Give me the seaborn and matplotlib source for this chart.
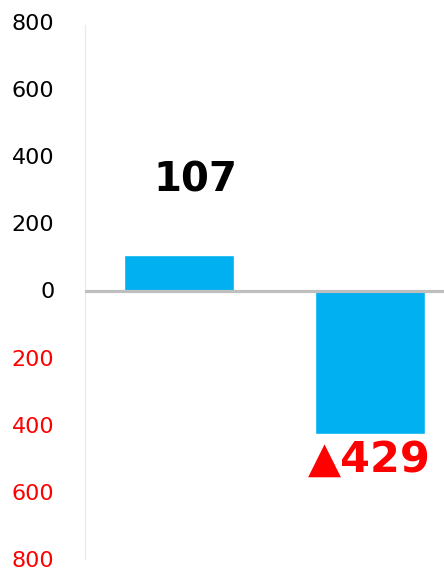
import matplotlib
matplotlib.use("Agg")
import matplotlib.pyplot as plt
import seaborn as sns
import pandas as pd

# data
categories = ["prev", "curr"]
values = [107, -429]
labels = ["107", "▲429"]
label_colors = ["black", "red"]
yticks = [-800, -600, -400, -200, 0, 200, 400, 600, 800]

sns.set_style("white")
plt.rcParams['font.family'] = ['DejaVu Sans']

df = pd.DataFrame({"cat": categories, "val": values})

fig = plt.figure(figsize=(4.44, 5.70), dpi=100)
ax = fig.add_axes([85 / 444, 1 - 559 / 570, 1 - 85 / 444, (559 - 22) / 570])

sns.barplot(data=df, x="cat", y="val", color="#00B0F0", saturation=1,
            width=0.576, ax=ax)

ax.set_ylim(-800, 800)
ax.set_xlim(-0.49, 1.39)
ax.set_yticks(yticks)
ax.set_yticklabels([str(abs(t)) for t in yticks])
for t, lab in zip(yticks, ax.get_yticklabels()):
    lab.set_color("red" if t < 0 else "black")
ax.tick_params(axis="y", length=0, pad=22, labelsize=16)
ax.set_xticks([])
ax.set_xlabel("")
ax.set_ylabel("")

for s in ["top", "right", "bottom"]:
    ax.spines[s].set_visible(False)
ax.spines["left"].set_color("#EBEBEB")
ax.spines["left"].set_linewidth(1)
ax.spines["left"].set_bounds(-800, 790)

ax.axhline(0, color="#BFBFBF", linewidth=2.3, zorder=3)

# value labels
ax.text(0.09, 327, labels[0], ha="center", va="center", fontsize=29,
        fontweight="bold", color=label_colors[0])
ax.text(1.0, -505, labels[1], ha="center", va="center", fontsize=31,
        fontweight="bold", color=label_colors[1])

fig.savefig("out.png", dpi=100)
